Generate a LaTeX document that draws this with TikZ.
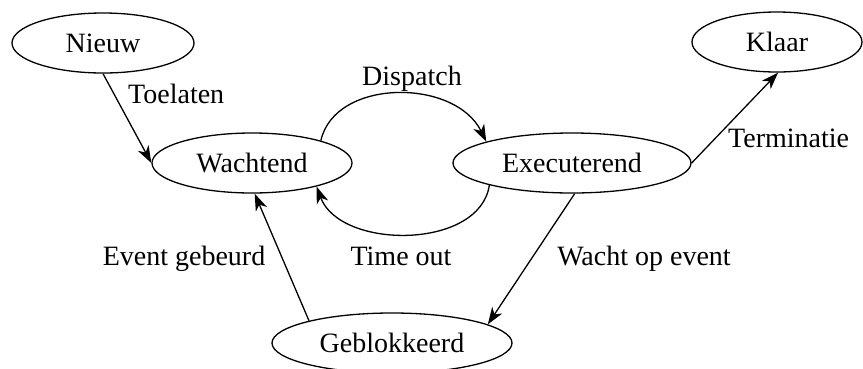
\documentclass[tikz,border=0pt]{standalone}
\usepackage{fontspec}
\setmainfont{Liberation Serif}
\usetikzlibrary{shapes.geometric,arrows.meta}
\begin{document}
\begin{tikzpicture}[x=1pt,y=-1pt,
  state/.style={draw,ellipse,line width=1.3pt,inner sep=0pt,minimum height=60pt},
  conn/.style={line width=1.3pt,-{Stealth[length=17pt,width=12pt,inset=5pt]}},
  lbl/.style={inner sep=0pt,anchor=base},
  every node/.append style={font=\fontsize{28}{33}\selectfont}]
\useasboundingbox (0,0) rectangle (863,368);
\node[state,minimum width=182pt] (nieuw) at (103,43) {Nieuw};
\node[state,minimum width=200pt] (wacht) at (252,163) {Wachtend};
\node[state,minimum width=238pt] (exec) at (572,163) {Executerend};
\node[state,minimum width=170pt] (klaar) at (777,42) {Klaar};
\node[state,minimum width=240pt] (gebl) at (392,343) {Geblokkeerd};

\draw[conn] (nieuw.south) -- (wacht.west);
\draw[conn] (wacht.18) .. controls (335,78) and (455,78) .. (exec.166);
\draw[conn] (exec.195) .. controls (480,250) and (340,250) .. (wacht.-20);
\draw[conn] (exec.east) -- (klaar.-88);
\draw[conn] (exec.-85) -- (gebl.11);
\draw[conn] (gebl.165) -- (wacht.-85);

\node[lbl,anchor=base west] (l1) at (128,103) {Toelaten};
\node[lbl] (l2) at (412,85) {Dispatch};
\node[lbl,anchor=base west] (l3) at (728,147) {Terminatie};
\node[lbl] (l4) at (184,265) {Event gebeurd};
\node[lbl] (l5) at (401,265) {Time out};
\node[lbl] (l6) at (644,265) {Wacht op event};
\end{tikzpicture}
\end{document}
